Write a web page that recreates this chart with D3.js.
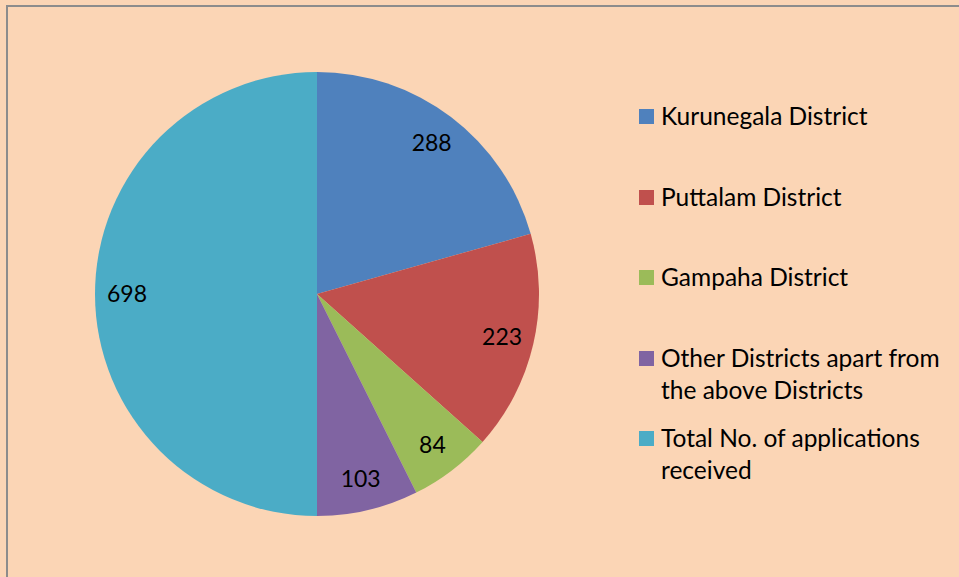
<!DOCTYPE html>
<meta charset="utf-8" />
<style>
  body {
    margin: 0px;
    padding: 0px;
    background: #fbd5b5;
  }
  svg {
    display: block;
  }
  .labels text,
  .legend text {
    font-family: Lato, "Open Sans", sans-serif;
    fill: #000;
  }
</style>

<svg width="959" height="577"></svg>

<script src="https://d3js.org/d3.v7.min.js"></script>
<script>
  const categories = [
    "Kurunegala District",
    "Puttalam District",
    "Gampaha District",
    "Other Districts apart from the above Districts",
    "Total No. of applications received"
  ];
  const values = [288, 223, 84, 103, 698];
  // legend text is wrapped like the original
  const legendLines = [
    ["Kurunegala District"],
    ["Puttalam District"],
    ["Gampaha District"],
    ["Other Districts apart from", "the above Districts"],
    ["Total No. of applications", "received"]
  ];
  const colors = ["#4f81bd", "#c0504d", "#9bbb59", "#8064a2", "#4bacc6"];

  const svg = d3.select("svg");

  // chart area with grey frame on the left and top
  svg.append("rect")
    .attr("x", 7)
    .attr("y", 6)
    .attr("width", 960)
    .attr("height", 580)
    .attr("fill", "#fbd5b5")
    .attr("stroke", "#8c8c8c")
    .attr("stroke-width", 2);

  const cx = 317, cy = 294, radius = 222;

  const data = categories.map((c, i) => ({ name: c, value: values[i], color: colors[i] }));

  const pie = d3.pie().sort(null).value(d => d.value);
  const arc = d3.arc().innerRadius(0).outerRadius(radius);
  const labelArc = d3.arc().innerRadius(190).outerRadius(190);

  const g = svg.append("g").attr("transform", `translate(${cx},${cy})`);

  g.selectAll("path")
    .data(pie(data))
    .enter()
    .append("path")
    .attr("d", arc)
    .attr("fill", d => d.data.color);

  g.append("g")
    .attr("class", "labels")
    .selectAll("text")
    .data(pie(data))
    .enter()
    .append("text")
    .attr("transform", d => `translate(${labelArc.centroid(d)})`)
    .attr("text-anchor", "middle")
    .attr("dy", "0.36em")
    .attr("font-size", 23)
    .text(d => d.data.value);

  //legend
  const legendY = [116, 197, 277, 358, 438];
  const legend = svg.append("g").attr("class", "legend");

  const item = legend.selectAll("g")
    .data(data)
    .enter()
    .append("g")
    .attr("transform", (d, i) => `translate(639,${legendY[i]})`);

  item.append("rect")
    .attr("x", 0)
    .attr("y", -7)
    .attr("width", 15)
    .attr("height", 15)
    .attr("fill", d => d.color);

  item.append("text")
    .attr("font-size", 24.5)
    .selectAll("tspan")
    .data((d, i) => legendLines[i])
    .enter()
    .append("tspan")
    .attr("x", 22)
    .attr("y", (d, j) => j * 32)
    .attr("dy", "0.36em")
    .text(d => d);
</script>
